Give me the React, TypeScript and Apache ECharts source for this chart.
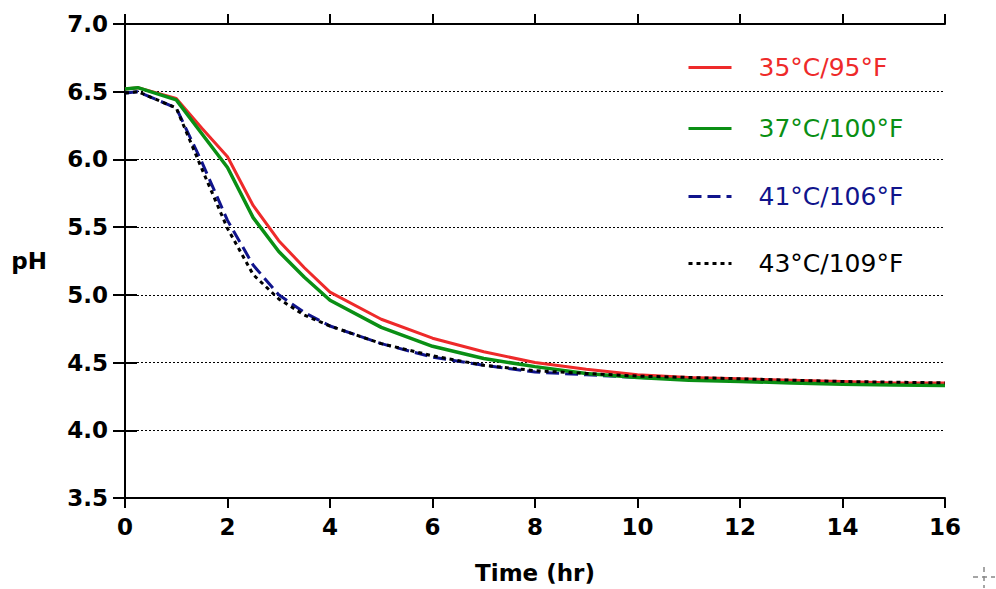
import React, { useEffect, useRef } from "react";
import * as echarts from "echarts";

const hours = [0, 0.25, 1, 1.5, 2, 2.5, 3, 3.5, 4, 5, 6, 7, 8, 9, 10, 11, 12, 13, 14, 15, 16];
const ph35 = [6.52, 6.53, 6.45, 6.23, 6.02, 5.66, 5.4, 5.2, 5.02, 4.82, 4.68, 4.58, 4.5, 4.45, 4.41, 4.39, 4.38, 4.37, 4.36, 4.35, 4.35];
const ph37 = [6.52, 6.53, 6.44, 6.19, 5.94, 5.57, 5.32, 5.13, 4.96, 4.76, 4.62, 4.53, 4.47, 4.42, 4.39, 4.37, 4.36, 4.35, 4.34, 4.335, 4.33];
const ph41 = [6.49, 6.5, 6.38, 5.98, 5.55, 5.22, 5.0, 4.87, 4.77, 4.64, 4.54, 4.48, 4.43, 4.41, 4.39, 4.38, 4.37, 4.36, 4.35, 4.34, 4.34];
const ph43 = [6.49, 6.5, 6.38, 5.93, 5.49, 5.15, 4.97, 4.85, 4.77, 4.64, 4.55, 4.48, 4.44, 4.42, 4.4, 4.39, 4.38, 4.37, 4.36, 4.355, 4.35];
const seriesNames = ["35°C/95°F", "37°C/100°F", "41°C/106°F", "43°C/109°F"];
const yTicks = { min: 3.5, max: 7, interval: 0.5 };
const xTicks = { min: 0, max: 16, interval: 2 };

const RED = "#ee2a2a";
const GREEN = "#0a8f14";
const BLUE = "#10148c";
const BLACK = "#000000";

const boldFont = "DejaVu Sans";

export default function App() {
  const ref = useRef<HTMLDivElement>(null);
  useEffect(() => {
    if (!ref.current) return;
    const chart = echarts.init(ref.current, undefined, { renderer: "svg" });
    const pair = (vals: number[]) => hours.map((h, i) => [h, vals[i]]);
    const axisLine = { show: true, lineStyle: { color: "#000", width: 2 } };
    const tick = (len: number) => ({ show: true, length: len, lineStyle: { color: "#000", width: 2 } });
    const legendTops = [55, 116, 184, 251];
    const legendColors = [RED, GREEN, BLUE, BLACK];
    chart.setOption({
      animation: false,
      backgroundColor: "#fff",
      grid: { left: 125, top: 24, right: 51, bottom: 87, containLabel: false },
      legend: seriesNames.map((n, i) => ({
        data: [n],
        left: 687,
        top: legendTops[i],
        orient: "vertical",
        itemWidth: 43,
        itemHeight: 22,
        padding: 0,
        itemStyle: { opacity: 0, borderWidth: 0 },
        lineStyle: { width: 3 },
        textStyle: {
          color: legendColors[i],
          fontFamily: "DejaVu Sans",
          fontSize: 25,
          padding: [0, 0, 0, 22],
        },
      })),
      xAxis: [
        {
          type: "value",
          position: "bottom",
          min: xTicks.min,
          max: xTicks.max,
          interval: xTicks.interval,
          axisLine,
          axisTick: tick(10),
          splitLine: { show: false },
          axisLabel: { color: "#000", fontFamily: boldFont, fontWeight: "bold", fontSize: 23, margin: 17 },
          name: "Time (hr)",
          nameLocation: "middle",
          nameGap: 63,
          nameTextStyle: { color: "#000", fontFamily: boldFont, fontWeight: "bold", fontSize: 23, verticalAlign: "top" },
        },
        {
          type: "value",
          position: "top",
          min: xTicks.min,
          max: xTicks.max,
          interval: xTicks.interval,
          axisLine,
          axisTick: tick(10),
          splitLine: { show: false },
          axisLabel: { show: false },
        },
      ],
      yAxis: [
        {
          type: "value",
          position: "left",
          min: yTicks.min,
          max: yTicks.max,
          interval: yTicks.interval,
          axisLine,
          axisTick: tick(12),
          splitLine: { show: true, lineStyle: { color: "#000", width: 1, type: [2, 2] } },
          axisLabel: {
            color: "#000",
            fontFamily: boldFont,
            fontWeight: "bold",
            fontSize: 23,
            margin: 17,
            formatter: (v: number) => v.toFixed(1),
          },
          name: "pH",
          nameLocation: "middle",
          nameRotate: 0,
          nameGap: 78,
          nameTextStyle: { color: "#000", fontFamily: boldFont, fontWeight: "bold", fontSize: 23, align: "right" },
        },
        {
          type: "value",
          position: "right",
          min: yTicks.min,
          max: yTicks.max,
          interval: yTicks.interval,
          axisLine,
          axisTick: tick(12),
          splitLine: { show: false },
          axisLabel: { show: false },
        },
      ],
      series: [
        {
          name: seriesNames[2],
          type: "line",
          data: pair(ph41),
          symbol: "none",
          lineStyle: { color: BLUE, width: 3, type: [13, 6] },
          itemStyle: { color: BLUE },
          z: 2,
        },
        {
          name: seriesNames[0],
          type: "line",
          data: pair(ph35),
          symbol: "none",
          lineStyle: { color: RED, width: 3 },
          itemStyle: { color: RED },
          z: 3,
        },
        {
          name: seriesNames[1],
          type: "line",
          data: pair(ph37),
          symbol: "none",
          lineStyle: { color: GREEN, width: 3.5 },
          itemStyle: { color: GREEN },
          z: 4,
        },
        {
          name: seriesNames[3],
          type: "line",
          data: pair(ph43),
          symbol: "none",
          lineStyle: { color: BLACK, width: 3, type: [4, 4] },
          itemStyle: { color: BLACK },
          z: 5,
        },
      ],
      graphic: [
        { type: "line", shape: { x1: 973, y1: 577, x2: 995, y2: 577 }, style: { stroke: "#888", lineWidth: 1.5, lineDash: [5, 4] } },
        { type: "line", shape: { x1: 984, y1: 567, x2: 984, y2: 588 }, style: { stroke: "#888", lineWidth: 1.5, lineDash: [5, 4] } },
      ],
    });
    return () => chart.dispose();
  }, []);
  return <div ref={ref} style={{ width: 996, height: 589, position: "absolute", left: 0, top: 0 }} />;
}
